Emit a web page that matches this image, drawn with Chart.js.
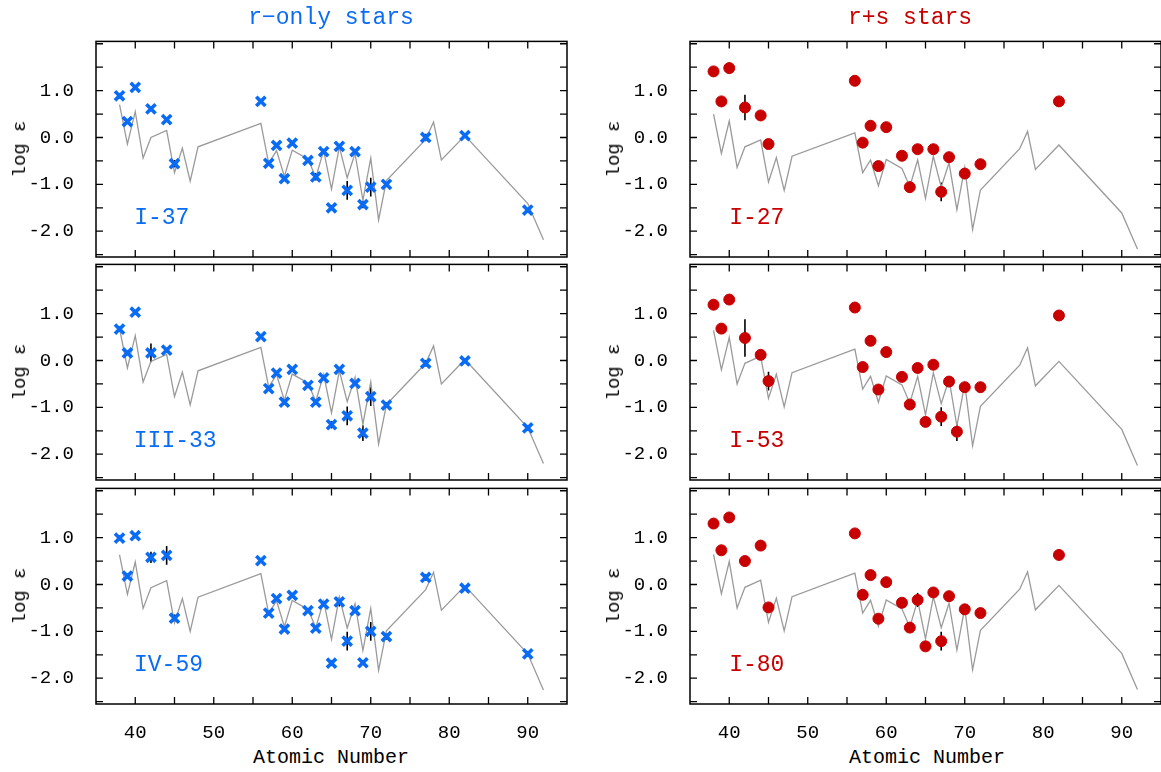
<!DOCTYPE html>
<html><head><meta charset="utf-8">
<script src="https://cdn.jsdelivr.net/npm/chart.js@4.4.1/dist/chart.umd.min.js"></script>
<style>
body{margin:0;width:1161px;height:772px;overflow:hidden;background:#fff;position:relative;font-family:"Liberation Mono",monospace;}
canvas{position:absolute;}
.t{position:absolute;white-space:nowrap;font-family:"Liberation Mono",monospace;}
</style></head><body>
<script>
// Scaled solar r-process pattern (atomic numbers and base log eps)
const lineZ = [38,39,40,41,42,44,45,46,47,48,56,57,58,59,60,62,63,64,65,66,67,68,69,70,71,72,77,78,79,82,90,92];
const lineBase = [0.70,-0.14,0.55,-0.44,0.0,0.15,-0.75,-0.23,-0.93,-0.20,0.30,-0.55,-0.28,-0.83,-0.27,-0.46,-0.85,-0.28,-1.10,-0.20,-0.86,-0.34,-1.34,-0.44,-1.76,-0.92,-0.04,0.33,-0.48,0.04,-1.41,-2.18];
const lineShift = {I37:0, III33:-0.02, IV59:-0.07, I27:-0.20, I53:-0.06, I80:-0.06};

const rZ = [38,39,40,42,44,45,56,57,58,59,60,62,63,64,65,66,67,68,69,70,72,77,82,90];
const I37 = [0.89,0.34,1.07,0.61,0.38,-0.56,0.77,-0.55,-0.17,-0.88,-0.12,-0.49,-0.84,-0.30,-1.50,-0.19,-1.13,-0.30,-1.43,-1.06,-1.00,0.00,0.04,-1.55];
const I37err = [0.06,0.05,0.05,0.05,0.05,0.08,0.05,0.05,0.05,0.05,0.05,0.05,0.08,0.05,0.05,0.05,0.2,0.05,0.08,0.2,0.06,0.08,0.05,0.05];
const rZ2 = [38,39,40,42,44,56,57,58,59,60,62,63,64,65,66,67,68,69,70,72,77,82,90];
const III33 = [0.67,0.16,1.03,0.16,0.22,0.51,-0.60,-0.27,-0.89,-0.19,-0.53,-0.89,-0.37,-1.37,-0.19,-1.18,-0.49,-1.55,-0.77,-0.95,-0.06,-0.01,-1.44];
const III33err = [0.06,0.05,0.05,0.2,0.05,0.05,0.05,0.05,0.05,0.05,0.05,0.05,0.05,0.08,0.05,0.2,0.05,0.17,0.2,0.06,0.07,0.05,0.06];
const IV59 = [0.99,0.18,1.04,0.58,0.62,-0.72,0.51,-0.61,-0.30,-0.95,-0.23,-0.56,-0.93,-0.42,-1.68,-0.37,-1.21,-0.56,-1.67,-1.00,-1.11,0.15,-0.08,-1.48];
const IV59err = [0.06,0.05,0.05,0.12,0.2,0.08,0.05,0.05,0.05,0.05,0.05,0.05,0.05,0.05,0.06,0.1,0.2,0.05,0.05,0.2,0.07,0.07,0.05,0.06];

const sZ = [38,39,40,42,44,45,56,57,58,59,60,62,63,64,66,67,68,70,72,82];
const I27 = [1.41,0.77,1.48,0.64,0.47,-0.14,1.21,-0.11,0.25,-0.61,0.22,-0.39,-1.06,-0.25,-0.25,-1.16,-0.42,-0.77,-0.57,0.77];
const I27err = [0.05,0.04,0.12,0.27,0.04,0.1,0.04,0.04,0.04,0.04,0.04,0.04,0.12,0.04,0.04,0.2,0.1,0.08,0.08,0.08];
const sZ2 = [38,39,40,42,44,45,56,57,58,59,60,62,63,64,65,66,67,68,69,70,72,82];
const I53 = [1.19,0.68,1.30,0.48,0.12,-0.44,1.13,-0.14,0.42,-0.62,0.18,-0.35,-0.94,-0.16,-1.31,-0.09,-1.20,-0.45,-1.52,-0.57,-0.57,0.96];
const I53err = [0.06,0.04,0.04,0.4,0.04,0.2,0.04,0.04,0.04,0.04,0.04,0.04,0.04,0.04,0.06,0.04,0.2,0.1,0.2,0.05,0.07,0.06];
const sZ3 = [38,39,40,42,44,45,56,57,58,59,60,62,63,64,65,66,67,68,70,72,82];
const I80 = [1.30,0.73,1.43,0.50,0.83,-0.49,1.09,-0.22,0.20,-0.73,0.05,-0.39,-0.92,-0.33,-1.32,-0.17,-1.21,-0.25,-0.53,-0.61,0.63];
const I80err = [0.06,0.04,0.05,0.1,0.04,0.06,0.04,0.04,0.04,0.04,0.04,0.04,0.04,0.15,0.05,0.04,0.2,0.04,0.05,0.07,0.07];

const yTickLabels = [-2, -1, 0, 1];
const xTickLabels = [40,50,60,70,80,90];

const BLUE = '#0a6cf5', RED = '#c80000';
const panels = [
  {name:'I-37', key:'I37', Z:rZ, v:I37, e:I37err, col:0, row:0, s:'r'},
  {name:'III-33', key:'III33', Z:rZ2, v:III33, e:III33err, col:0, row:1, s:'r'},
  {name:'IV-59', key:'IV59', Z:rZ, v:IV59, e:IV59err, col:0, row:2, s:'r'},
  {name:'I-27', key:'I27', Z:sZ, v:I27, e:I27err, col:1, row:0, s:'s'},
  {name:'I-53', key:'I53', Z:sZ2, v:I53, e:I53err, col:1, row:1, s:'s'},
  {name:'I-80', key:'I80', Z:sZ3, v:I80, e:I80err, col:1, row:2, s:'s'},
];
const tops = [41, 264, 488];
const PH = 216;
const lefts = [96, 690];
const PW = 471;

function addText(txt, x, y, size, color, rot, family){
  const d = document.createElement('div');
  d.className = 't';
  d.textContent = txt;
  d.style.fontSize = size + 'px';
  d.style.color = color;
  if (family) d.style.fontFamily = family;
  d.style.left = x + 'px'; d.style.top = y + 'px';
  d.style.transform = 'translate(-50%,-50%)' + (rot ? ' rotate(-90deg)' : '');
  document.body.appendChild(d);
}

const framePlugin = {
  id:'frame',
  beforeDatasetsDraw(chart){
    const ctx = chart.ctx, x = chart.scales.x, y = chart.scales.y, p = chart.options.plugins.frame;
    ctx.save();
    ctx.strokeStyle = '#000'; ctx.lineWidth = 1.6;
    (p.Z).forEach((z,i)=>{
      const px = x.getPixelForValue(z);
      ctx.beginPath();
      ctx.moveTo(px, y.getPixelForValue(p.v[i]-p.e[i]));
      ctx.lineTo(px, y.getPixelForValue(p.v[i]+p.e[i]));
      ctx.stroke();
    });
    ctx.restore();
  },
  afterDraw(chart){
    const ctx = chart.ctx, a = chart.chartArea, x = chart.scales.x, y = chart.scales.y;
    ctx.save();
    ctx.strokeStyle = '#000'; ctx.lineWidth = 1.5;
    ctx.strokeRect(a.left, a.top, a.right-a.left, a.bottom-a.top);
    ctx.lineWidth = 1.3;
    const L = 7;
    x.ticks.forEach(t=>{
      const px = x.getPixelForValue(t.value);
      if (px <= a.left+1 || px >= a.right-1) return;
      ctx.beginPath(); ctx.moveTo(px,a.bottom); ctx.lineTo(px,a.bottom-L);
      ctx.moveTo(px,a.top); ctx.lineTo(px,a.top+L); ctx.stroke();
    });
    y.ticks.forEach(t=>{
      const py = y.getPixelForValue(t.value);
      if (py <= a.top+1 || py >= a.bottom-1) return;
      ctx.beginPath(); ctx.moveTo(a.left,py); ctx.lineTo(a.left+L,py);
      ctx.moveTo(a.right,py); ctx.lineTo(a.right-L,py); ctx.stroke();
    });
    ctx.restore();
  }
};

function makeChart(cv, p, W, H){
  cv.width = W; cv.height = H;
  cv.style.width = W+'px'; cv.style.height = H+'px';
  const isBottom = p.row === 2;
  const shift = lineShift[p.key];
  const color = p.s === 'r' ? BLUE : RED;
  return new Chart(cv, {
    type:'scatter',
    data:{datasets:[
      {type:'line', data: lineZ.map((z,i)=>({x:z, y:lineBase[i]+shift})), borderColor:'#9a9a9a', borderWidth:1.3, pointRadius:0, fill:false, tension:0, order:2},
      {data: p.Z.map((z,i)=>({x:z, y:p.v[i]})),
       pointStyle: p.s === 'r' ? 'crossRot' : 'circle',
       pointRadius: p.s === 'r' ? 6.5 : 5.5,
       borderWidth: p.s === 'r' ? 3.6 : 1,
       borderColor: color, backgroundColor: color, order:1}
    ]},
    options:{
      responsive:false, animation:false, devicePixelRatio:1,
      layout:{padding:{top:5, right:13, left:0, bottom:0}},
      plugins:{legend:{display:false}, tooltip:{enabled:false},
        frame:{Z:p.Z, v:p.v, e:p.e}},
      scales:{
        x:{type:'linear', min:35, max:95,
           grid:{display:false}, border:{display:false},
           ticks:{stepSize:5, autoSkip:false, maxRotation:0, display:isBottom, padding:10,
             color:'#000', font:{family:'Liberation Mono', size:19},
             callback:v=> xTickLabels.includes(v) ? String(v) : ''},
           afterFit:s=>{s.height = 40;}},
        y:{type:'linear', min:-2.55, max:2.05,
           grid:{display:false}, border:{display:false},
           ticks:{stepSize:0.5, autoSkip:false, padding:14, color:'#000',
             font:{family:'Liberation Mono', size:19},
             callback:v=> yTickLabels.includes(v) ? v.toFixed(1) : ''},
           afterBuildTicks:s=>{s.ticks = []; for(let v=-2.5; v<=2.0001; v+=0.5) s.ticks.push({value:Math.round(v*10)/10});},
           afterFit:s=>{s.width = 96;}}
      }
    },
    plugins:[framePlugin]
  });
}

panels.forEach(p=>{
  const cv = document.createElement('canvas');
  document.body.appendChild(cv);
  let W = 580, H = PH + 45;
  let chart = makeChart(cv, p, W, H);
  for (let k=0;k<3;k++){
    const a = chart.chartArea;
    const dh = PH - (a.bottom - a.top), dw = PW - (a.right - a.left);
    if (Math.abs(dh) < 0.5 && Math.abs(dw) < 0.5) break;
    W = Math.round(W + dw); H = Math.round(H + dh);
    chart.destroy();
    chart = makeChart(cv, p, W, H);
  }
  const a = chart.chartArea;
  cv.style.left = (lefts[p.col] - a.left) + 'px';
  cv.style.top = (tops[p.row] - a.top) + 'px';
  const color = p.s === 'r' ? BLUE : RED;
  addText(p.name, (p.col===0 ? 135 : 730) + p.name.length*6.7, tops[p.row] + 177, 23, color, false);
  addText('log ε', p.col===0 ? 20 : 614, tops[p.row] + PH/2, 19, '#000', true);
});
addText('r−only stars', 331, 18, 23, BLUE, false);
addText('r+s stars', 910, 18, 23, RED, false);
addText('Atomic Number', 331, 757, 20, '#000', false);
addText('Atomic Number', 927, 757, 20, '#000', false);
</script>
</body></html>
